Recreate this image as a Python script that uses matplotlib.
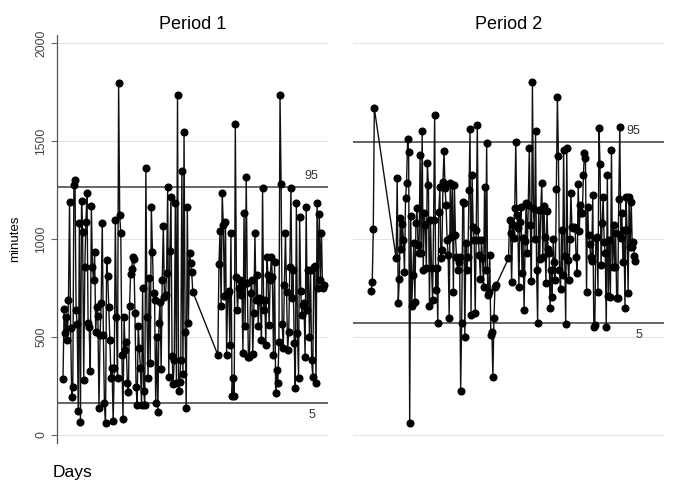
import numpy as np
import matplotlib
matplotlib.use("Agg")
import matplotlib.pyplot as plt
import matplotlib.transforms as mtrans

plt.rcParams['font.family'] = ['Liberation Sans', 'DejaVu Sans']

# --------------------------
# data (minutes per day)
# --------------------------

# Period 1: two runs of days with a gap between them
p1_seg_a = [284, 641, 519, 604, 485, 689, 1190, 548, 196, 247, 1276, 1301, 638, 566,
            124, 1080, 68, 1194, 1037, 281, 859, 1088, 1236, 570, 553, 327, 1170, 859,
            791, 932, 527, 655, 607, 136, 510, 672, 1083, 510, 162, 60, 893, 811, 655,
            485, 289, 340, 71, 340, 1097, 604, 289, 1798, 1122, 1029, 408, 82,
            600, 434, 473, 264, 218, 660, 820, 845, 910, 898, 621, 247, 153, 556, 442,
            340, 153, 748, 224, 153, 1361, 604, 289, 799, 369, 1162, 934, 723, 689, 162,
            498, 119, 573, 680, 335, 791, 1066, 706, 714, 825, 1267, 294, 940, 1216, 405,
            258, 383, 1182, 264, 1735, 224, 272, 383, 1347, 310, 1548, 527, 136, 1165,
            573, 927, 876, 833, 731]
p1_seg_b = [408, 872, 1043, 660, 1233, 1071, 709, 1088, 408, 718, 736, 459, 1032, 199,
            292, 199, 1585, 808, 638, 748, 791, 714, 760, 417, 1131, 556, 1318, 774, 400,
            400, 723, 791, 413, 621, 1029,
            689, 816, 556, 697, 689, 485, 1259, 638, 689, 459, 910, 816, 561, 791, 910,
            808, 408, 884, 216, 332, 264, 476, 1735, 1281, 566, 442, 765, 1029, 731, 434,
            527, 859, 1259, 697, 842, 468, 241, 1182, 519, 292, 1114, 735, 612, 663, 672,
            400, 1165, 638, 842, 502, 842, 383, 298, 859, 864, 264, 1184, 748, 1128, 791,
            1029, 748, 765]
p1_starts = [1, 143]
p1_p95 = 1265
p1_p5 = 163

# Period 2: three runs of days
p2_seg_0 = [736, 782, 1049, 1667]
p2_seg_a = [901, 1310, 675, 794, 1105, 947, 1077, 995, 833, 1207, 1284, 1508, 1446, 60,
            1117, 658, 816, 978, 680, 1083, 1156, 969, 927, 1429, 927, 1551, 842, 1131,
            1071, 850, 1389, 1276, 658,
            1097, 850, 689, 1097, 1633, 740, 850, 570, 1139, 1267, 901, 944, 1292, 1451,
            1259, 1173, 995, 918, 595, 1284, 1012, 1276, 731, 1276, 1020, 910, 842, 884,
            910, 224, 570, 1190, 1182, 502, 978, 842, 910, 1250, 1560, 612, 1327, 1063,
            995, 621, 1046, 1582, 995, 918, 794, 995, 901, 757, 1267, 842, 1491, 714, 731,
            918, 510, 527, 298, 595, 757, 765]
p2_seg_b = [901, 1097, 1029, 782, 1071, 1003, 1156, 1497, 1122, 1054, 757, 1088, 1162,
            825, 1003, 638, 991, 1185, 927, 1173, 1463, 1071, 787, 1803, 1156, 999, 1553,
            842, 573, 1148, 896, 1148, 1287, 910, 1168, 1012, 774, 1145, 947, 927, 646,
            842, 706, 999, 884, 791, 1253, 1723, 1423, 842, 743, 1046, 816, 1454, 913, 566,
            1463, 893, 791, 999, 1233, 1060,
            1054, 1063, 1054, 910, 828, 1281, 1041, 1173, 1134, 1131, 1327, 1437, 1412,
            731, 1165, 1020, 974, 910, 889, 1224, 549, 561, 1003, 1012, 731, 1565, 1381,
            867, 1083, 1213, 983, 930, 549, 1327, 709, 995, 706, 1454, 859, 1071, 859,
            1029, 697, 697, 1202, 1573, 1003, 1131, 884, 1046, 646, 1216, 1046, 723, 1216,
            961, 1190, 961, 986, 913, 889]
p2_starts = [1, 25, 133]
p2_p95 = 1495
p2_p5 = 571

yticks = [0, 500, 1000, 1500, 2000]


def build(segs, starts):
    days = np.concatenate([s + np.arange(len(seg)) for seg, s in zip(segs, starts)])
    vals = np.concatenate([np.array(seg, dtype=float) for seg in segs])
    return days, vals


p1_days, p1_vals = build([p1_seg_a, p1_seg_b], p1_starts)
p2_days, p2_vals = build([p2_seg_0, p2_seg_a, p2_seg_b], p2_starts)

# --------------------------
# figure
# --------------------------

fig = plt.figure(figsize=(6.85, 4.93), dpi=100)
ax1 = fig.add_axes([57 / 685, 1 - 443 / 493, 271 / 685, 408 / 493])
ax2 = fig.add_axes([353 / 685, 1 - 443 / 493, 311 / 685, 408 / 493])


def draw_panel(ax, days, vals, p95, p5, title, xlim, lab95_x, lab5_x):
    for y in yticks:
        ax.axhline(y, color="#e4e4e4", lw=0.8, zorder=0)
    ax.axhline(p95, color="#5a5a5a", lw=1.3, zorder=1)
    ax.axhline(p5, color="#5a5a5a", lw=1.3, zorder=1)
    ax.plot(days, vals, color="#111111", lw=1.0, marker="o", ms=4.8,
            mfc="black", mec="black", zorder=2)
    ax.set_xlim(*xlim)
    ax.set_ylim(-41, 2041)
    ax.set_xticks([])
    ax.set_title(title, fontsize=13, pad=4)
    tr = mtrans.blended_transform_factory(ax.transAxes, ax.transData)
    ax.text(lab95_x, p95 + 25, "95", transform=tr, ha="right", va="bottom",
            fontsize=9, color="#333333")
    ax.text(lab5_x, p5 - 30, "5", transform=tr, ha="right", va="top",
            fontsize=9, color="#333333")
    for s in ["top", "right", "bottom"]:
        ax.spines[s].set_visible(False)


draw_panel(ax1, p1_days, p1_vals, p1_p95, p1_p5, "Period 1", (-4.5, 244), 0.965, 0.955)
draw_panel(ax2, p2_days, p2_vals, p2_p95, p2_p5, "Period 2", (-16.5, 282.5), 0.923, 0.93)

ax1.set_yticks(yticks)
ax1.set_yticklabels([str(t) for t in yticks], rotation=90, va="center",
                    fontsize=8.7, color="#444444")
ax1.tick_params(axis="y", length=4, width=0.8, color="#666666", pad=3)
ax1.spines["left"].set_color("#555555")
ax1.spines["left"].set_linewidth(0.9)
ax1.set_ylabel("minutes", fontsize=9.5, labelpad=10)

ax2.set_yticks([])
ax2.spines["left"].set_visible(False)

fig.text(53 / 685, 1 - 472 / 493, "Days", fontsize=12.5, ha="left", va="center")

fig.savefig("out.png", dpi=100)
